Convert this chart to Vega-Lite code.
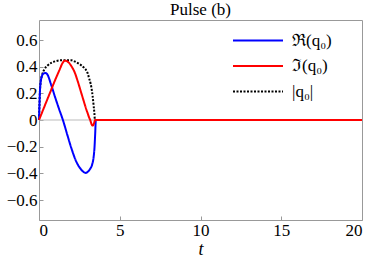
{
  "$schema": "https://vega.github.io/schema/vega-lite/v6.json",
  "width": 323,
  "height": 200,
  "autosize": {"type": "none"},
  "padding": {"left": 39, "top": 20, "right": 12, "bottom": 41},
  "title": {"text": "Pulse (b)", "font": "Liberation Serif", "fontSize": 17, "fontWeight": "normal", "color": "#000", "offset": 3, "dy": 2},
  "config": {
    "view": {"stroke": "#999", "strokeWidth": 1},
    "legend": {
      "orient": "none",
      "legendX": 205.5,
      "legendY": 7,
      "symbolType": "M-2,0H2",
      "symbolSize": 625,
      "symbolStrokeWidth": 2,
      "labelFont": "Liberation Serif",
      "labelFontSize": 17,
      "labelColor": "#000",
      "labelOffset": 20.5,
      "rowPadding": 3.5,
      "title": null
    }
  },
  "datasets": {
    "curves": [
      {"t": 0, "s": "|q₀|", "v": 0},
      {"t": 0.03, "s": "|q₀|", "v": 0.12},
      {"t": 0.06, "s": "|q₀|", "v": 0.22},
      {"t": 0.1, "s": "|q₀|", "v": 0.28},
      {"t": 0.2, "s": "|q₀|", "v": 0.34},
      {"t": 0.33, "s": "|q₀|", "v": 0.38},
      {"t": 0.5, "s": "|q₀|", "v": 0.405},
      {"t": 0.78, "s": "|q₀|", "v": 0.43},
      {"t": 1.0, "s": "|q₀|", "v": 0.44},
      {"t": 1.4, "s": "|q₀|", "v": 0.448},
      {"t": 2.0, "s": "|q₀|", "v": 0.448},
      {"t": 2.2, "s": "|q₀|", "v": 0.44},
      {"t": 2.5, "s": "|q₀|", "v": 0.42},
      {"t": 2.8, "s": "|q₀|", "v": 0.39},
      {"t": 3.0, "s": "|q₀|", "v": 0.355},
      {"t": 3.11, "s": "|q₀|", "v": 0.31},
      {"t": 3.2, "s": "|q₀|", "v": 0.27},
      {"t": 3.25, "s": "|q₀|", "v": 0.24},
      {"t": 3.32, "s": "|q₀|", "v": 0.18},
      {"t": 3.38, "s": "|q₀|", "v": 0.11},
      {"t": 3.43, "s": "|q₀|", "v": 0.05},
      {"t": 3.46, "s": "|q₀|", "v": 0},
      {"t": 20, "s": "|q₀|", "v": 0},

      {"t": 0, "s": "ℜ(q₀)", "v": 0},
      {"t": 0.03, "s": "ℜ(q₀)", "v": 0.12},
      {"t": 0.06, "s": "ℜ(q₀)", "v": 0.22},
      {"t": 0.1, "s": "ℜ(q₀)", "v": 0.28},
      {"t": 0.2, "s": "ℜ(q₀)", "v": 0.335},
      {"t": 0.3, "s": "ℜ(q₀)", "v": 0.35},
      {"t": 0.4, "s": "ℜ(q₀)", "v": 0.352},
      {"t": 0.5, "s": "ℜ(q₀)", "v": 0.345},
      {"t": 0.75, "s": "ℜ(q₀)", "v": 0.265},
      {"t": 1.0, "s": "ℜ(q₀)", "v": 0.17},
      {"t": 1.25, "s": "ℜ(q₀)", "v": 0.08},
      {"t": 1.48, "s": "ℜ(q₀)", "v": 0},
      {"t": 1.75, "s": "ℜ(q₀)", "v": -0.11},
      {"t": 2.0, "s": "ℜ(q₀)", "v": -0.21},
      {"t": 2.3, "s": "ℜ(q₀)", "v": -0.31},
      {"t": 2.6, "s": "ℜ(q₀)", "v": -0.37},
      {"t": 2.8, "s": "ℜ(q₀)", "v": -0.393},
      {"t": 2.9, "s": "ℜ(q₀)", "v": -0.397},
      {"t": 3.0, "s": "ℜ(q₀)", "v": -0.39},
      {"t": 3.15, "s": "ℜ(q₀)", "v": -0.37},
      {"t": 3.3, "s": "ℜ(q₀)", "v": -0.33},
      {"t": 3.38, "s": "ℜ(q₀)", "v": -0.28},
      {"t": 3.44, "s": "ℜ(q₀)", "v": -0.2},
      {"t": 3.48, "s": "ℜ(q₀)", "v": -0.1},
      {"t": 3.52, "s": "ℜ(q₀)", "v": 0},
      {"t": 20, "s": "ℜ(q₀)", "v": 0},

      {"t": 0, "s": "ℑ(q₀)", "v": 0},
      {"t": 0.25, "s": "ℑ(q₀)", "v": 0.075},
      {"t": 0.5, "s": "ℑ(q₀)", "v": 0.15},
      {"t": 0.75, "s": "ℑ(q₀)", "v": 0.225},
      {"t": 1.0, "s": "ℑ(q₀)", "v": 0.3},
      {"t": 1.25, "s": "ℑ(q₀)", "v": 0.37},
      {"t": 1.45, "s": "ℑ(q₀)", "v": 0.425},
      {"t": 1.6, "s": "ℑ(q₀)", "v": 0.445},
      {"t": 1.75, "s": "ℑ(q₀)", "v": 0.44},
      {"t": 2.0, "s": "ℑ(q₀)", "v": 0.405},
      {"t": 2.2, "s": "ℑ(q₀)", "v": 0.36},
      {"t": 2.4, "s": "ℑ(q₀)", "v": 0.29},
      {"t": 2.6, "s": "ℑ(q₀)", "v": 0.21},
      {"t": 2.8, "s": "ℑ(q₀)", "v": 0.13},
      {"t": 2.9, "s": "ℑ(q₀)", "v": 0.09},
      {"t": 3.0, "s": "ℑ(q₀)", "v": 0.055},
      {"t": 3.1, "s": "ℑ(q₀)", "v": 0.02},
      {"t": 3.17, "s": "ℑ(q₀)", "v": 0},
      {"t": 3.25, "s": "ℑ(q₀)", "v": -0.03},
      {"t": 3.3, "s": "ℑ(q₀)", "v": -0.042},
      {"t": 3.35, "s": "ℑ(q₀)", "v": -0.04},
      {"t": 3.42, "s": "ℑ(q₀)", "v": -0.02},
      {"t": 3.47, "s": "ℑ(q₀)", "v": 0},
      {"t": 20, "s": "ℑ(q₀)", "v": 0}
    ]
  },
  "encoding": {
    "x": {
      "field": "t", "type": "quantitative",
      "scale": {"domain": [0, 20], "nice": false},
      "axis": {
        "values": [0, 5, 10, 15, 20], "title": "t",
        "domain": false, "grid": false, "tickColor": "#999", "tickSize": -4,
        "labelFont": "Liberation Serif", "labelFontSize": 17, "labelColor": "#000", "labelPadding": 6,
        "titleFont": "Liberation Serif", "titleFontSize": 18, "titleFontWeight": "normal", "titleFontStyle": "italic", "titleColor": "#000", "titlePadding": 2
      }
    },
    "y": {
      "field": "v", "type": "quantitative",
      "scale": {"domain": [-0.75, 0.75], "nice": false, "zero": false},
      "axis": {
        "values": [-0.6, -0.4, -0.2, 0, 0.2, 0.4, 0.6],
        "title": null,
        "domain": false, "grid": false, "tickColor": "#999", "tickSize": -4,
        "labelFont": "Liberation Serif", "labelFontSize": 17, "labelColor": "#000", "labelPadding": 6,
        "labelExpr": "datum.value == 0 ? '0' : replace(format(datum.value, '.1f'), '-', '−')"
      }
    }
  },
  "layer": [
    {
      "data": {"values": [{"v": 0}]},
      "mark": {"type": "rule", "color": "#bbb", "strokeWidth": 1},
      "encoding": {"x": {"value": 0}, "x2": {"value": 323}}
    },
    {
      "data": {"name": "curves"},
      "transform": [{"filter": "datum.s == '|q₀|'"}],
      "mark": {"type": "line", "strokeWidth": 2, "interpolate": "monotone"},
      "encoding": {
        "color": {"field": "s", "type": "nominal", "scale": {"domain": ["ℜ(q₀)", "ℑ(q₀)", "|q₀|"], "range": ["#0000ff", "#ff0000", "#000000"]}},
        "strokeDash": {"field": "s", "type": "nominal", "scale": {"domain": ["ℜ(q₀)", "ℑ(q₀)", "|q₀|"], "range": [[1, 0], [1, 0], [2, 1.5]]}}
      }
    },
    {
      "data": {"name": "curves"},
      "transform": [{"filter": "datum.s == 'ℜ(q₀)'"}],
      "mark": {"type": "line", "strokeWidth": 2, "interpolate": "monotone"},
      "encoding": {
        "color": {"field": "s", "type": "nominal", "scale": {"domain": ["ℜ(q₀)", "ℑ(q₀)", "|q₀|"], "range": ["#0000ff", "#ff0000", "#000000"]}},
        "strokeDash": {"field": "s", "type": "nominal", "scale": {"domain": ["ℜ(q₀)", "ℑ(q₀)", "|q₀|"], "range": [[1, 0], [1, 0], [2, 1.5]]}}
      }
    },
    {
      "data": {"name": "curves"},
      "transform": [{"filter": "datum.s == 'ℑ(q₀)'"}],
      "mark": {"type": "line", "strokeWidth": 2, "interpolate": "monotone"},
      "encoding": {
        "color": {"field": "s", "type": "nominal", "scale": {"domain": ["ℜ(q₀)", "ℑ(q₀)", "|q₀|"], "range": ["#0000ff", "#ff0000", "#000000"]}},
        "strokeDash": {"field": "s", "type": "nominal", "scale": {"domain": ["ℜ(q₀)", "ℑ(q₀)", "|q₀|"], "range": [[1, 0], [1, 0], [2, 1.5]]}}
      }
    }
  ]
}
